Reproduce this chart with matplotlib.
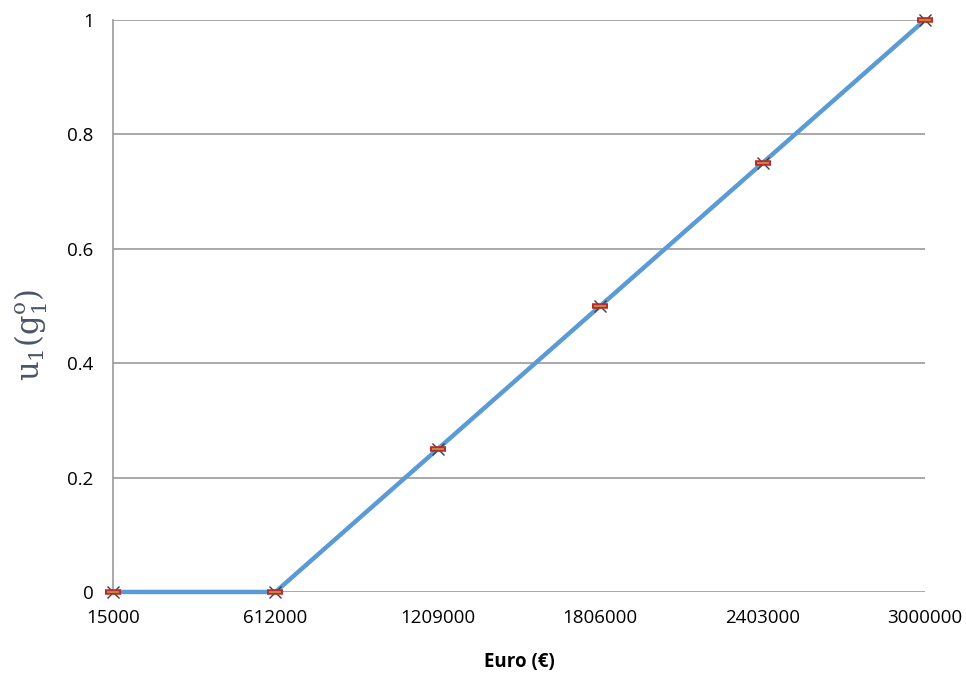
import numpy as np
import matplotlib.pyplot as plt

# categories on the x axis (Excel-style category axis)
euro = ["15000", "612000", "1209000", "1806000", "2403000", "3000000"]
utility = [0, 0, 0.25, 0.5, 0.75, 1]

plt.rcParams['font.family'] = ['Open Sans', 'DejaVu Sans']

fig = plt.figure(figsize=(9.66, 6.77), dpi=100)
ax = fig.add_axes([0.117, 0.1256, 0.8406, 0.845])

x = np.arange(len(euro))
ax.plot(x, utility, color='#5b9bd5', linewidth=3.2, zorder=3, clip_on=False)
# markers: dark cross + red/yellow dash
ax.plot(x, utility, linestyle='none', marker='x', markersize=8, markeredgecolor='#404040',
        markeredgewidth=1.0, zorder=4, clip_on=False)
ax.plot(x, utility, linestyle='none', marker='_', markersize=11, markeredgecolor='#c0282d',
        markeredgewidth=4, zorder=5, clip_on=False)
ax.plot(x, utility, linestyle='none', marker='_', markersize=8, markeredgecolor='#b8a040',
        markeredgewidth=1.2, zorder=6, clip_on=False)

ax.set_xlim(0, len(euro) - 1)
ax.set_ylim(0, 1)
ax.set_xticks(x)
ax.set_xticklabels(euro)
ax.set_yticks([0, 0.2, 0.4, 0.6, 0.8, 1])
ax.set_yticklabels(['0', '0.2', '0.4', '0.6', '0.8', '1'])
ax.tick_params(axis='both', length=0, labelsize=13.5, colors='#000000')
ax.tick_params(axis='x', pad=12)
ax.tick_params(axis='y', pad=14)

ax.grid(axis='y', color='#9a9a9a', linewidth=1.2)
ax.set_axisbelow(True)
for s in ['top', 'right', 'bottom']:
    ax.spines[s].set_visible(False)
ax.spines['left'].set_color('#9a9a9a')
ax.spines['left'].set_linewidth(1.2)

ax.set_xlabel('Euro (€)', fontsize=13.5, fontweight='bold', labelpad=18)
ax.set_ylabel(r'$\mathrm{u_1(g_1^o)}$', fontsize=22, color='#4a5566',
              math_fontfamily='dejavuserif')
ax.yaxis.set_label_coords(-0.078, 0.45)

fig.savefig('out.png', dpi=100)
